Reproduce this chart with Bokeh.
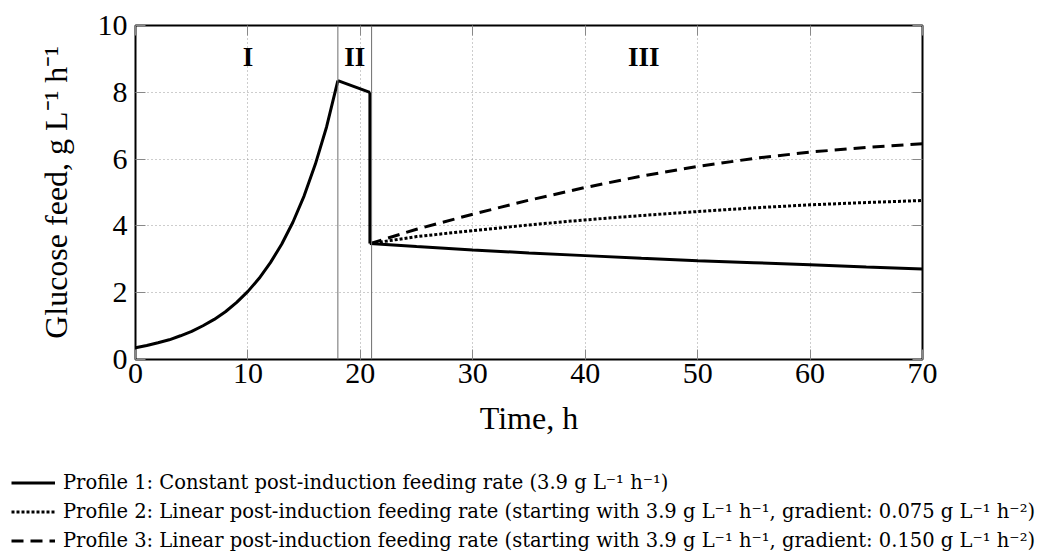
from bokeh.plotting import figure
from bokeh.layouts import column
from bokeh.models import (Range1d, Span, Legend, LegendItem, LinearAxis,
                          FixedTicker, Label)
from bokeh.embed import file_html
from bokeh.resources import INLINE

# ---------------- data ----------------
time_phase1 = [0, 1, 2, 3, 4, 5, 6, 7, 8, 9, 10, 11, 12, 13, 14, 15, 16, 17, 18]
feed_phase1 = [0.35, 0.42, 0.50, 0.59, 0.71, 0.84, 1.01, 1.20, 1.43, 1.71,
               2.04, 2.43, 2.90, 3.45, 4.11, 4.90, 5.85, 6.97, 8.35]
time_phase2 = [18, 20.85]
feed_phase2 = [8.35, 8.0]
time_phase3 = [20.85, 25, 30, 35, 40, 45, 50, 55, 60, 65, 70]
feed_profile1 = [3.47, 3.38, 3.28, 3.19, 3.11, 3.03, 2.96, 2.90, 2.84, 2.77, 2.71]
feed_profile2 = [3.47, 3.68, 3.86, 4.03, 4.18, 4.31, 4.43, 4.54, 4.63, 4.70, 4.76]
feed_profile3 = [3.47, 3.90, 4.35, 4.77, 5.15, 5.49, 5.78, 6.02, 6.21, 6.35, 6.46]

phase_bounds = [18, 21]
phase_names = ["I", "II", "III"]
phase_name_x = [10, 19.5, 45.2]
phase_name_y = 9.05

x_ticks = [0, 10, 20, 30, 40, 50, 60, 70]
y_ticks = [0, 2, 4, 6, 8, 10]

legend_labels = [
    "Profile 1: Constant post-induction feeding rate (3.9 g L\u207b\u00b9 h\u207b\u00b9)",
    "Profile 2: Linear post-induction feeding rate (starting with 3.9 g L\u207b\u00b9 h\u207b\u00b9, gradient: 0.075 g L\u207b\u00b9 h\u207b\u00b2)",
    "Profile 3: Linear post-induction feeding rate (starting with 3.9 g L\u207b\u00b9 h\u207b\u00b9, gradient: 0.150 g L\u207b\u00b9 h\u207b\u00b2)",
]
profiles = [feed_profile1, feed_profile2, feed_profile3]

FONT = "Liberation Serif"
LEGEND_FONT = "DejaVu Serif"
LW = 3
dashes = ["solid", "3 2", "12 7"]

# ---------------- main figure ----------------
p = figure(width=1043, height=440, output_backend="svg", toolbar_location=None,
           x_range=Range1d(0, 70), y_range=Range1d(0, 10),
           min_border_left=135, min_border_right=121,
           min_border_top=25, min_border_bottom=81)
p.frame_align = False

p.outline_line_color = "black"
p.outline_line_width = 2
p.background_fill_color = "white"

for g in (p.xgrid, p.ygrid):
    g.grid_line_color = "#9a9a9a"
    g.grid_line_dash = "1 3"
    g.grid_line_width = 1
p.xgrid.ticker = FixedTicker(ticks=x_ticks[1:-1])
p.ygrid.ticker = FixedTicker(ticks=y_ticks[1:-1])

xax = p.below[0]
yax = p.left[0]
xax.ticker = FixedTicker(ticks=x_ticks)
yax.ticker = FixedTicker(ticks=y_ticks)
rax = LinearAxis(ticker=FixedTicker(ticks=y_ticks),
                 major_label_overrides={t: "" for t in y_ticks})
tax = LinearAxis(ticker=FixedTicker(ticks=x_ticks),
                 major_label_overrides={t: "" for t in x_ticks})
p.add_layout(rax, "right")
p.add_layout(tax, "above")
for ax in (xax, yax, rax, tax):
    ax.axis_line_color = None
    ax.major_tick_in = 10
    ax.major_tick_out = 0
    ax.major_tick_line_color = "#888888"
    ax.minor_tick_line_color = None
    ax.major_label_text_font = FONT
    ax.major_label_text_color = "black"
    ax.major_label_text_font_size = "30px"
    ax.axis_label_text_font = FONT
    ax.axis_label_text_font_style = "normal"
    ax.axis_label_text_color = "black"
    ax.axis_label_text_font_size = "32px"
rax.major_label_standoff = 0
tax.major_label_standoff = 0
xax.major_label_standoff = 4
yax.major_label_standoff = 8
xax.axis_label = "Time, h"
yax.axis_label = "Glucose feed, g L\u207b\u00b9 h\u207b\u00b9"
xax.axis_label_standoff = 14
yax.axis_label_standoff = 21

for b in phase_bounds:
    p.add_layout(Span(location=b, dimension="height", line_color="#6e6e6e", line_width=1))

for name, xx in zip(phase_names, phase_name_x):
    p.add_layout(Label(x=xx, y=phase_name_y, text=name, text_font=FONT,
                       text_font_size="27px", text_font_style="bold",
                       text_color="black",
                       text_align="center", text_baseline="middle"))

p.line(time_phase1, feed_phase1, line_color="black", line_width=LW)
p.line(time_phase2, feed_phase2, line_color="black", line_width=LW)
p.line([time_phase2[-1], time_phase3[0]], [feed_phase2[-1], feed_profile1[0]],
       line_color="black", line_width=LW)
for prof, d in reversed(list(zip(profiles, dashes))):
    p.line(time_phase3, prof, line_color="black", line_width=LW, line_dash=d)

# ---------------- legend figure ----------------
pl = figure(width=1043, height=118, output_backend="svg", toolbar_location=None,
            x_range=Range1d(0, 70), y_range=Range1d(0, 10),
            min_border=0, x_axis_type=None, y_axis_type=None)
pl.frame_align = False
pl.outline_line_color = None
pl.xgrid.visible = False
pl.ygrid.visible = False
items = []
for lab, prof, d in zip(legend_labels, profiles, dashes):
    r = pl.line(time_phase3, prof, line_color="black", line_width=LW, line_dash=d)
    r.visible = False
    items.append(LegendItem(label=lab, renderers=[r]))
legend = Legend(items=items, location=(11, 3), orientation="vertical")
legend.label_text_font = LEGEND_FONT
legend.label_text_font_size = "19.5px"
legend.label_text_color = "black"
legend.glyph_width = 44
legend.glyph_height = 29
legend.label_height = 29
legend.label_standoff = 8
legend.spacing = 0
legend.padding = 0
legend.margin = 0
legend.border_line_alpha = 0
legend.background_fill_alpha = 0
legend.inactive_fill_alpha = 0
pl.add_layout(legend, "center")

layout = column(p, pl, spacing=0)
open("out.html", "w").write(file_html(layout, INLINE))
